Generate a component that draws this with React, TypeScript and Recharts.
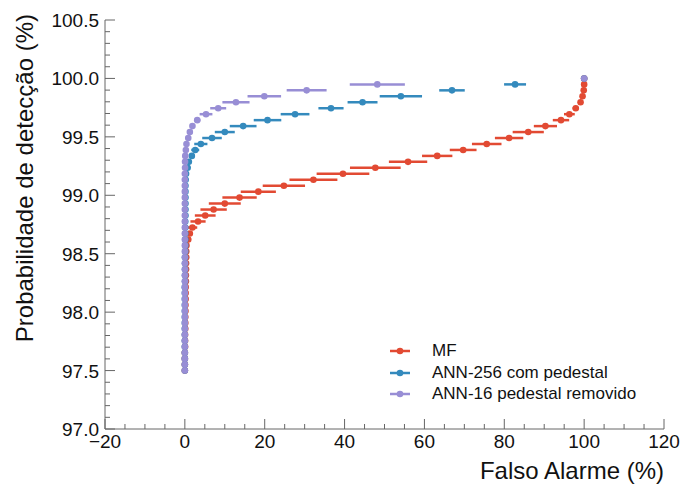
import React from 'react';
import { ScatterChart, Scatter, XAxis, YAxis, ErrorBar, Legend } from 'recharts';

// detection thresholds (%), shared by the three curves
const thresholds = [
  97.5, 97.551, 97.602, 97.653, 97.704, 97.755, 97.806, 97.857, 97.908, 97.959,
  98.01, 98.061, 98.112, 98.163, 98.214, 98.265, 98.316, 98.367, 98.418, 98.469,
  98.52, 98.571, 98.622, 98.673, 98.724, 98.776, 98.827, 98.878, 98.929, 98.98,
  99.031, 99.082, 99.133, 99.184, 99.235, 99.286, 99.337, 99.388, 99.439, 99.49,
  99.541, 99.592, 99.643, 99.694, 99.745, 99.796, 99.847, 99.898, 99.949, 100.0,
];

const mfFalseAlarm = [
  0, 0, 0, 0, 0.05, 0.05, 0.05, 0.1, 0.1, 0.1,
  0.15, 0.15, 0.2, 0.2, 0.2, 0.25, 0.25, 0.3, 0.3, 0.35,
  0.35, 0.4, 0.85, 1.25, 1.9, 3.3, 5.1, 7.2, 10.0, 13.7,
  18.4, 24.8, 32.2, 39.6, 47.7, 55.9, 63.2, 69.7, 75.6, 81.2,
  86.0, 90.3, 94.2, 96.3, 97.9, 99.1, 99.6, 99.9, 100.0, 100.0,
];
const mfErr = [
  0, 0, 0, 0, 0, 0, 0, 0, 0, 0,
  0, 0, 0, 0, 0, 0, 0, 0, 0, 0,
  0.1, 0.2, 0.4, 0.7, 1.2, 1.9, 2.6, 3.3, 4.0, 4.3,
  4.4, 5.3, 6.0, 6.6, 6.35, 4.8, 3.8, 3.35, 3.7, 3.55,
  3.9, 2.9, 2.05, 1.35, 0.8, 0.4, 0.2, 0, 0, 0,
];

const ann256FalseAlarm = [
  0, 0, 0, 0, 0, 0, 0, 0, 0, 0,
  0, 0, 0, 0, 0, 0.05, 0.05, 0.05, 0.05, 0.05,
  0.1, 0.1, 0.1, 0.1, 0.1, 0.1, 0.15, 0.15, 0.15, 0.15,
  0.15, 0.15, 0.2, 0.3, 0.7, 1.0, 1.75, 2.6, 4.0, 6.8,
  10.0, 14.6, 20.7, 27.6, 36.6, 44.5, 54.1, 66.9, 82.7, 100.0,
];
const ann256Err = [
  0, 0, 0, 0, 0, 0, 0, 0, 0, 0,
  0, 0, 0, 0, 0, 0, 0, 0, 0, 0,
  0, 0, 0, 0, 0, 0, 0, 0, 0, 0,
  0, 0, 0, 0.1, 0.2, 0.35, 0.6, 1.0, 1.65, 2.45,
  2.5, 3.35, 3.45, 3.6, 3.15, 3.75, 5.3, 3.2, 2.75, 0,
];

const ann16FalseAlarm = [
  0, 0, 0, 0, 0, 0, 0, 0, 0, 0,
  0, 0, 0, 0, 0, 0, 0, 0, 0, 0,
  0, 0, 0, 0, 0, 0, 0, 0, 0, 0,
  0, 0, 0, 0, 0.05, 0.05, 0.1, 0.25, 0.4, 0.85,
  1.25, 1.9, 3.1, 5.3, 8.35, 12.8, 19.9, 30.5, 48.2, 100.0,
];
const ann16Err = [
  0, 0, 0, 0, 0, 0, 0, 0, 0, 0,
  0, 0, 0, 0, 0, 0, 0, 0, 0, 0,
  0, 0, 0, 0, 0, 0, 0, 0, 0, 0,
  0, 0, 0, 0, 0, 0, 0, 0, 0.1, 0.15,
  0.25, 0.4, 0.8, 1.6, 2.0, 3.4, 4.2, 5.0, 6.9, 0,
];

const xTicks = [
  -20, -15, -10, -5, 0, 5, 10, 15, 20, 25, 30, 35, 40, 45, 50, 55, 60, 65, 70,
  75, 80, 85, 90, 95, 100, 105, 110, 115, 120,
];
const yTicks = [
  97.0, 97.1, 97.2, 97.3, 97.4, 97.5, 97.6, 97.7, 97.8, 97.9,
  98.0, 98.1, 98.2, 98.3, 98.4, 98.5, 98.6, 98.7, 98.8, 98.9,
  99.0, 99.1, 99.2, 99.3, 99.4, 99.5, 99.6, 99.7, 99.8, 99.9,
  100.0, 100.1, 100.2, 100.3, 100.4, 100.5,
];

const FONT = '"Liberation Sans", Arial, sans-serif';
const FRAME = '#666';

const series = [
  { name: 'MF', color: '#E24A33', xs: mfFalseAlarm, errs: mfErr },
  { name: 'ANN-256 com pedestal', color: '#348ABD', xs: ann256FalseAlarm, errs: ann256Err },
  { name: 'ANN-16 pedestal removido', color: '#988ED5', xs: ann16FalseAlarm, errs: ann16Err },
];

const isMajorX = (v: number) => Math.abs(v % 20) < 1e-9;
const isMajorY = (v: number) => Math.abs(v * 2 - Math.round(v * 2)) < 1e-6;

const BottomTick = (props: any) => {
  const { x, y, payload } = props;
  const v = payload.value;
  const major = isMajorX(v);
  return (
    <g>
      <line x1={x} x2={x} y1={y} y2={y - (major ? 10 : 5)} stroke={FRAME} />
      {major && (
        <text x={x} y={y + 19} textAnchor="middle" fontSize={19} fontFamily={FONT} fill="#111">
          {v < 0 ? '\u2212' + Math.abs(v) : v}
        </text>
      )}
    </g>
  );
};

const TopTick = (props: any) => {
  const { x, y, payload } = props;
  const major = isMajorX(payload.value);
  return <line x1={x} x2={x} y1={y} y2={y + (major ? 10 : 5)} stroke={FRAME} />;
};

const LeftTick = (props: any) => {
  const { x, y, payload } = props;
  const v = payload.value;
  const major = isMajorY(v);
  return (
    <g>
      <line x1={x} x2={x + (major ? 10 : 5)} y1={y} y2={y} stroke={FRAME} />
      {major && (
        <text x={x - 6} y={y + 7} textAnchor="end" fontSize={19} fontFamily={FONT} fill="#111">
          {v.toFixed(1)}
        </text>
      )}
    </g>
  );
};

const RightTick = (props: any) => {
  const { x, y, payload } = props;
  const major = isMajorY(payload.value);
  return <line x1={x} x2={x - (major ? 10 : 5)} y1={y} y2={y} stroke={FRAME} />;
};

const Dot = (color: string) => (props: any) => (
  <circle cx={props.cx} cy={props.cy} r={3.3} fill={color} />
);

const LegendBox = () => (
  <div style={{ fontFamily: FONT, fontSize: 17, color: '#111' }}>
    {series.map((s) => (
      <div key={s.name} style={{ display: 'flex', alignItems: 'center', height: 21.7 }}>
        <svg width={44} height={12}>
          <line x1={2} x2={22} y1={6} y2={6} stroke={s.color} strokeWidth={2.5} />
          <circle cx={12} cy={6} r={3.3} fill={s.color} />
        </svg>
        <span>{s.name}</span>
      </div>
    ))}
  </div>
);

export default function App() {
  return (
    <div style={{ position: 'absolute', left: 0, top: 0, width: 683, height: 489, background: '#fff' }}>
      <ScatterChart width={683} height={489} margin={{ top: 20, right: 19, bottom: 0, left: 0 }}>
        <XAxis
          xAxisId="b"
          type="number"
          dataKey="x"
          domain={[-20, 120]}
          allowDataOverflow
          ticks={xTicks}
          interval={0}
          height={60}
          tickSize={0}
          tickMargin={0}
          tickLine={false}
          axisLine={{ stroke: FRAME }}
          tick={<BottomTick />}
          label={{
            content: (p: any) => (
              <text
                x={p.viewBox.x + p.viewBox.width}
                y={p.viewBox.y + 50}
                textAnchor="end"
                fontSize={24}
                fontFamily={FONT}
                fill="#111"
              >
                Falso Alarme (%)
              </text>
            ),
          }}
        />
        <XAxis
          xAxisId="t"
          orientation="top"
          type="number"
          domain={[-20, 120]}
          allowDataOverflow
          ticks={xTicks}
          interval={0}
          height={0}
          tickSize={0}
          tickMargin={0}
          tickLine={false}
          axisLine={{ stroke: FRAME }}
          tick={<TopTick />}
        />
        <YAxis
          yAxisId="l"
          type="number"
          dataKey="y"
          domain={[97, 100.5]}
          allowDataOverflow
          ticks={yTicks}
          interval={0}
          width={105}
          tickSize={0}
          tickMargin={0}
          tickLine={false}
          axisLine={{ stroke: FRAME }}
          tick={<LeftTick />}
          label={{
            content: () => (
              <text
                transform="translate(33, 14) rotate(-90)"
                textAnchor="end"
                fontSize={24}
                fontFamily={FONT}
                fill="#111"
              >
                Probabilidade de detecção (%)
              </text>
            ),
          }}
        />
        <YAxis
          yAxisId="r"
          orientation="right"
          type="number"
          domain={[97, 100.5]}
          allowDataOverflow
          ticks={yTicks}
          interval={0}
          width={0}
          tickSize={0}
          tickMargin={0}
          tickLine={false}
          axisLine={{ stroke: FRAME }}
          tick={<RightTick />}
        />
        {series.map((s) => (
          <Scatter
            key={s.name}
            name={s.name}
            xAxisId="b"
            yAxisId="l"
            data={thresholds.map((y, i) => ({ x: s.xs[i], y, err: s.errs[i] }))}
            fill={s.color}
            shape={Dot(s.color)}
            isAnimationActive={false}
          >
            <ErrorBar dataKey="err" direction="x" width={0} stroke={s.color} strokeWidth={2.5} />
          </Scatter>
        ))}
        <Legend
          layout="horizontal"
          verticalAlign="middle"
          align="center"
          wrapperStyle={{ left: 388, top: 340, width: 290 }}
          content={<LegendBox />}
        />
      </ScatterChart>
    </div>
  );
}
